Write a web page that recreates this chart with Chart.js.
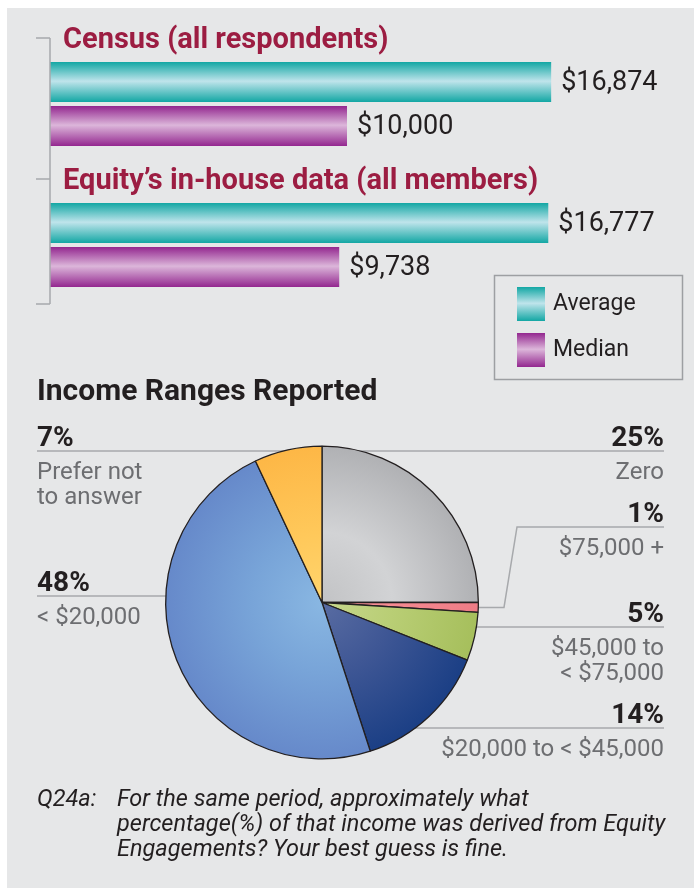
<!DOCTYPE html>
<html>
<head>
<meta charset="utf-8">
<script src="https://cdn.jsdelivr.net/npm/chart.js@4.4.1/dist/chart.umd.min.js"></script>
<style>
    html, body { margin: 0; padding: 0; background: #fff; }
    body { width: 694px; height: 888px; position: relative; overflow: hidden; font-family: Roboto, "Noto Sans", sans-serif; }
    #panel { position: absolute; left: 7px; top: 8px; right: 0; bottom: 0; background: #e6e7e8; }
    #bar-chart { position: absolute; left: 0; top: 0; }
    #pie-chart { position: absolute; left: 0; top: 370px; }
    #pie-title { position: absolute; left: 37px; top: 372px; font: bold 30px Roboto, sans-serif; color: #231f20; white-space: nowrap; }
    #note { position: absolute; left: 37px; top: 786px; display: flex; font: italic 23.5px/25px Roboto, sans-serif; color: #231f20; white-space: nowrap; }
    #note .q { width: 80px; flex: none; }
</style>
</head>
<body>
<div id="panel"></div>
<canvas id="bar-chart" width="694" height="385"></canvas>
<div id="pie-title">Income Ranges Reported</div>
<canvas id="pie-chart" width="694" height="410"></canvas>
<div id="note"><span class="q">Q24a:</span><span>For the same period, approximately what<br>percentage(%) of that income was derived from Equity<br>Engagements? Your best guess is fine.</span></div>

<script>
// --- income per source ---
const groups = ['Census (all respondents)', 'Equity\u2019s in-house data (all members)'];
const seriesNames = ['Average', 'Median'];
const averageIncome = [16874, 16777];
const medianIncome = [10000, 9738];

// --- income ranges (percent of respondents) ---
const rangeNames = ['Zero', '$75,000 +', '$45,000 to < $75,000', '$20,000 to < $45,000', '< $20,000', 'Prefer not to answer'];
const rangeShares = [25, 1, 5, 14, 48, 7];
const rangeLabelLines = [['Zero'], ['$75,000 +'], ['$45,000 to', '< $75,000'], ['$20,000 to < $45,000'], ['< $20,000'], ['Prefer not', 'to answer']];

// styling
const TEXT = '#231f20';
const SUBTEXT = '#6d6e71';
const RULE = '#a7a9ac';
const TITLE_RED = '#9c1d42';
const barStops = {
    teal: ['#13a7a4', '#bfe4eb', '#13a7a4'],
    purple: ['#93278f', '#dcb6da', '#93278f']
};
const sliceStops = [
    ['#c2c3c5', '#d2d3d5', '#b0b1b4'],
    ['#f7959a', '#f58a91', '#ee7c86'],
    ['#c7d78d', '#b9ce75', '#a6bf5c'],
    ['#596ca2', '#3f5795', '#1b3f85'],
    ['#89b7e2', '#78a4d8', '#6689ca'],
    ['#ffd56d', '#ffc85a', '#fdb746']
];

// callout placement for each slice, px inside the pie canvas
const callouts = [
    { side: 'right', lineY: 81 },
    { side: 'right', lineY: 157, elbow: [517, 504] },
    { side: 'right', lineY: 257 },
    { side: 'right', lineY: 358 },
    { side: 'left', lineY: 226 },
    { side: 'left', lineY: 81 }
];

function vGradient(ctx, top, bottom, stops) {
    const g = ctx.createLinearGradient(0, top, 0, bottom);
    g.addColorStop(0, stops[0]);
    g.addColorStop(0.48, stops[1]);
    g.addColorStop(1, stops[2]);
    return g;
}

// give every bar its own gradient once positions are known
// (options objects can be shared between elements, so replace rather than mutate)
const barShading = {
    id: 'barShading',
    beforeDatasetsDraw(chart) {
        const ctx = chart.ctx;
        chart.data.datasets.forEach((ds, i) => {
            chart.getDatasetMeta(i).data.forEach(bar => {
                const top = bar.y - bar.height / 2;
                bar.options = Object.assign({}, bar.options, {
                    backgroundColor: vGradient(ctx, top, top + bar.height, ds.stops)
                });
            });
        });
    }
};

const barDecor = {
    id: 'barDecor',
    afterDatasetsDraw(chart) {
        const ctx = chart.ctx;
        const yScale = chart.scales.y;
        const x0 = chart.scales.x.getPixelForValue(0);
        const centers = groups.map((g, i) => yScale.getPixelForValue(i));
        ctx.save();

        // bracket axis
        ctx.strokeStyle = RULE;
        ctx.lineWidth = 1.5;
        ctx.beginPath();
        const top = centers[0] - 66;
        const bottom = centers[centers.length - 1] + 59;
        ctx.moveTo(x0, top);
        ctx.lineTo(x0, bottom);
        [...centers.map(c => c - 66), bottom].forEach(y => {
            ctx.moveTo(x0 - 14, y);
            ctx.lineTo(x0, y);
        });
        ctx.stroke();

        // group titles
        ctx.fillStyle = TITLE_RED;
        ctx.font = 'bold 29px Roboto, sans-serif';
        ctx.textBaseline = 'middle';
        ctx.textAlign = 'left';
        groups.forEach((g, i) => ctx.fillText(g, x0 + 13, centers[i] - 63));

        // values at bar ends
        ctx.fillStyle = TEXT;
        ctx.font = '27px Roboto, sans-serif';
        chart.data.datasets.forEach((ds, i) => {
            chart.getDatasetMeta(i).data.forEach((bar, j) => {
                ctx.fillText('$' + ds.data[j].toLocaleString('en-US'), bar.x + 10, bar.y + 1);
            });
        });

        // legend box
        ctx.strokeStyle = '#9d9fa2';
        ctx.lineWidth = 1.5;
        ctx.strokeRect(494.5, 275.5, 188, 104);
        ctx.font = '23px Roboto, sans-serif';
        chart.data.datasets.forEach((ds, i) => {
            const sy = 287 + i * 46;
            ctx.fillStyle = vGradient(ctx, sy, sy + 34, ds.stops);
            ctx.fillRect(517, sy, 28, 34);
            ctx.fillStyle = TEXT;
            ctx.fillText(ds.label, 553, sy + 17);
        });
        ctx.restore();
    }
};

new Chart(document.getElementById('bar-chart'), {
    type: 'bar',
    data: {
        labels: groups,
        datasets: [
            { label: seriesNames[0], data: averageIncome, stops: barStops.teal },
            { label: seriesNames[1], data: medianIncome, stops: barStops.purple }
        ]
    },
    options: {
        indexAxis: 'y',
        responsive: false,
        animation: false,
        devicePixelRatio: 1,
        datasets: {
            bar: {
                backgroundColor: '#cccccc',
                borderWidth: 0,
                barPercentage: 0.909,
                categoryPercentage: 0.624
            }
        },
        layout: { padding: { left: 50, right: 50, top: 33.5, bottom: 69.5 } },
        scales: {
            x: { display: false, min: 0, max: 20000 },
            y: { display: false }
        },
        plugins: { legend: { display: false }, tooltip: { enabled: false } }
    },
    plugins: [barShading, barDecor]
});

// radial shading per slice, set after arcs are laid out
const sliceShading = {
    id: 'sliceShading',
    beforeDatasetsDraw(chart) {
        const ctx = chart.ctx;
        chart.getDatasetMeta(0).data.forEach((arc, i) => {
            const g = ctx.createRadialGradient(arc.x, arc.y, 0, arc.x, arc.y, arc.outerRadius);
            const s = sliceStops[i];
            g.addColorStop(0, s[0]);
            g.addColorStop(0.45, s[1]);
            g.addColorStop(1, s[2]);
            arc.options = Object.assign({}, arc.options, { backgroundColor: g });
        });
    }
};

// leader lines under the pie, labels on top
const sliceCallouts = {
    id: 'sliceCallouts',
    beforeDatasetsDraw(chart) {
        const ctx = chart.ctx;
        const arcs = chart.getDatasetMeta(0).data;
        ctx.save();
        ctx.strokeStyle = RULE;
        ctx.lineWidth = 1.5;
        arcs.forEach((arc, i) => {
            const c = callouts[i];
            const outerX = c.side === 'right' ? 664 : 37;
            ctx.beginPath();
            ctx.moveTo(outerX, c.lineY);
            if (c.elbow) {
                const mid = (arc.startAngle + arc.endAngle) / 2;
                const ey = arc.y + Math.sin(mid) * arc.outerRadius;
                ctx.lineTo(c.elbow[0], c.lineY);
                ctx.lineTo(c.elbow[1], ey);
                ctx.lineTo(arc.x + Math.cos(mid) * arc.outerRadius, ey);
            } else {
                ctx.lineTo(arc.x, c.lineY);
            }
            ctx.stroke();
        });
        ctx.restore();
    },
    afterDatasetsDraw(chart) {
        const ctx = chart.ctx;
        const values = chart.data.datasets[0].data;
        ctx.save();
        values.forEach((v, i) => {
            const c = callouts[i];
            const x = c.side === 'right' ? 664 : 37;
            ctx.textAlign = c.side === 'right' ? 'right' : 'left';
            ctx.textBaseline = 'alphabetic';
            ctx.fillStyle = TEXT;
            ctx.font = 'bold 28px Roboto, sans-serif';
            ctx.fillText(v + '%', x, c.lineY - 5);
            ctx.textBaseline = 'middle';
            ctx.fillStyle = SUBTEXT;
            ctx.font = '24px Roboto, sans-serif';
            rangeLabelLines[i].forEach((line, k) => ctx.fillText(line, x, c.lineY + 22 + k * 25));
        });
        ctx.restore();
    }
};

new Chart(document.getElementById('pie-chart'), {
    type: 'pie',
    data: {
        labels: rangeNames,
        datasets: [{
            data: rangeShares,
            backgroundColor: '#cccccc',
            borderColor: TEXT,
            borderWidth: 1.3,
            hoverOffset: 0
        }]
    },
    options: {
        responsive: false,
        animation: false,
        devicePixelRatio: 1,
        layout: { padding: { left: 165, right: 215, top: 75, bottom: 20 } },
        plugins: { legend: { display: false }, tooltip: { enabled: false } }
    },
    plugins: [sliceShading, sliceCallouts]
});
</script>
</body>
</html>
